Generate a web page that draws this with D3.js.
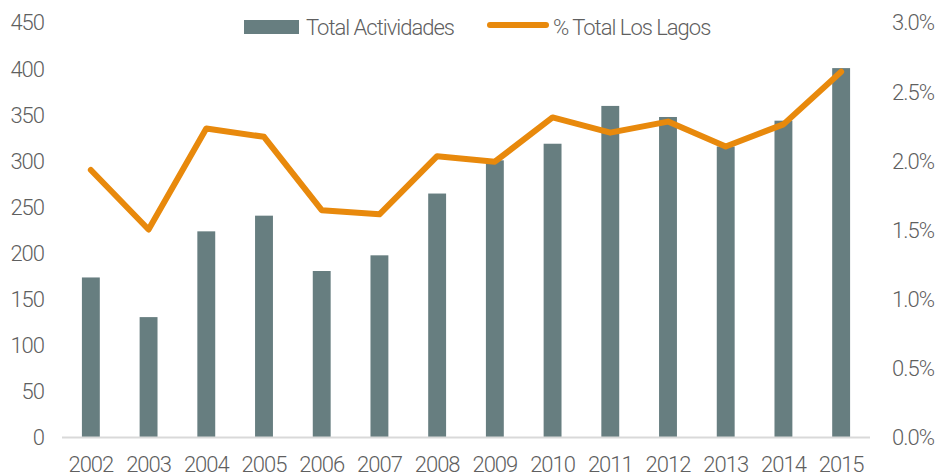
<!DOCTYPE html>
<html>
<head>
<meta charset="utf-8">
<script src="https://cdn.jsdelivr.net/npm/d3@7"></script>
<style>
  body { margin: 0; background: #fff; }
  svg text { font-family: "Liberation Sans Narrow", "Arial Narrow", Roboto, "Liberation Sans", sans-serif; font-weight: 300; fill: #5f5f5f; letter-spacing: -1px; }
</style>
</head>
<body>
<div id="drawing_region"></div>
<script>
// data
const years = ["2002","2003","2004","2005","2006","2007","2008","2009","2010","2011","2012","2013","2014","2015"];
const totalActividades = [173, 130, 223, 240, 180, 197, 264, 300, 318, 359, 347, 315, 343, 400];
const pctLosLagos = [1.93, 1.50, 2.23, 2.17, 1.64, 1.61, 2.03, 1.99, 2.31, 2.20, 2.28, 2.10, 2.26, 2.64];
const leftTicks = [0, 50, 100, 150, 200, 250, 300, 350, 400, 450];
const rightTicks = [0, 0.5, 1.0, 1.5, 2.0, 2.5, 3.0];
const seriesNames = ["Total Actividades", "% Total Los Lagos"];

const config = {
    width: 937,
    height: 476,
    margin: { top: 22, right: 67, bottom: 39, left: 62 },
    barColor: '#677E80',
    lineColor: '#E8890C'
};

const svg = d3.select('#drawing_region')
    .append('svg')
    .attr('width', config.width)
    .attr('height', config.height);

const m = config.margin;
const innerW = config.width - m.left - m.right;
const innerH = config.height - m.top - m.bottom;

const x = d3.scaleBand()
    .domain(years)
    .range([m.left, m.left + innerW])
    .paddingInner(0.69)
    .paddingOuter(0.345);

const yL = d3.scaleLinear().domain([0, 450]).range([m.top + innerH, m.top]);
const yR = d3.scaleLinear().domain([0, 3]).range([m.top + innerH, m.top]);

// bars
svg.append('g')
    .selectAll('rect')
    .data(years)
    .join('rect')
    .attr('x', d => x(d))
    .attr('y', (d, i) => yL(totalActividades[i]))
    .attr('width', x.bandwidth())
    .attr('height', (d, i) => yL(0) - yL(totalActividades[i]))
    .attr('fill', config.barColor);

// baseline
svg.append('line')
    .attr('x1', m.left)
    .attr('x2', m.left + innerW)
    .attr('y1', yL(0) + 0.5)
    .attr('y2', yL(0) + 0.5)
    .attr('stroke', '#D9D9D9')
    .attr('stroke-width', 2);

// left axis
const leftAxis = svg.append('g')
    .attr('transform', `translate(${m.left},0)`)
    .call(d3.axisLeft(yL).tickValues(leftTicks).tickSize(0).tickPadding(18));
leftAxis.select('.domain').remove();
leftAxis.selectAll('text').attr('font-size', 22).attr('dy', '0.36em');

// right axis
const rightAxis = svg.append('g')
    .attr('transform', `translate(${config.width - 3},0)`)
    .call(d3.axisLeft(yR).tickValues(rightTicks).tickSize(0).tickPadding(0).tickFormat(d => d3.format('.1f')(d) + '%'));
rightAxis.select('.domain').remove();
rightAxis.selectAll('text').attr('font-size', 22).attr('dy', '0.36em');

// bottom axis
const bottomAxis = svg.append('g')
    .attr('transform', `translate(0,${yL(0)})`)
    .call(d3.axisBottom(x).tickSize(0).tickPadding(19));
bottomAxis.select('.domain').remove();
bottomAxis.selectAll('text').attr('font-size', 22).attr('dy', '0.71em');

// line
const line = d3.line()
    .x((d, i) => x(years[i]) + x.bandwidth() / 2)
    .y(d => yR(d));

svg.append('path')
    .datum(pctLosLagos)
    .attr('d', line)
    .attr('fill', 'none')
    .attr('stroke', config.lineColor)
    .attr('stroke-width', 6)
    .attr('stroke-linejoin', 'round')
    .attr('stroke-linecap', 'round');

// legend
const legend = svg.append('g');
legend.append('rect')
    .attr('x', 244).attr('y', 20)
    .attr('width', 55).attr('height', 14)
    .attr('fill', config.barColor);
legend.append('text')
    .attr('x', 306).attr('y', 35)
    .attr('font-size', 22)
    .text(seriesNames[0]);
legend.append('line')
    .attr('x1', 490).attr('x2', 546)
    .attr('y1', 25).attr('y2', 25)
    .attr('stroke', config.lineColor)
    .attr('stroke-width', 6)
    .attr('stroke-linecap', 'round');
legend.append('text')
    .attr('x', 553).attr('y', 35)
    .attr('font-size', 22)
    .text(seriesNames[1]);
</script>
</body>
</html>
